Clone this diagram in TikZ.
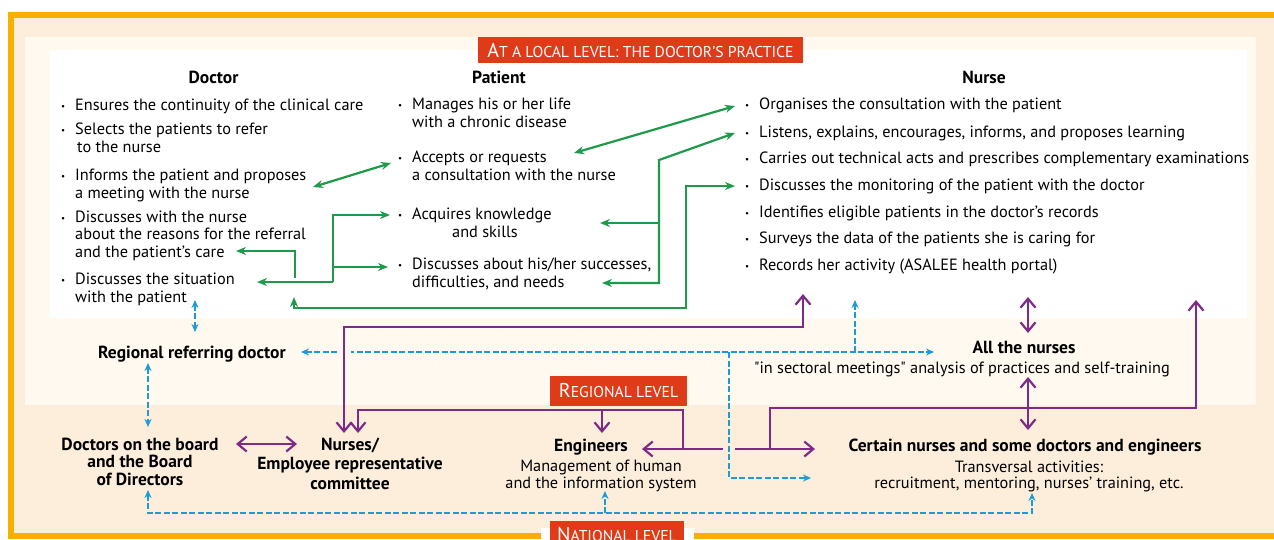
\documentclass[tikz,border=0pt]{standalone}
\usepackage{fontspec}
\setmainfont{PT Sans}[Ligatures=TeXOff]
\usetikzlibrary{arrows.meta}

\definecolor{frameorange}{HTML}{F8AF00}
\definecolor{peach}{HTML}{FDEEDC}
\definecolor{cream}{HTML}{FFF9F0}
\definecolor{labelred}{HTML}{E03B18}
\definecolor{grn}{HTML}{1F9A4A}
\definecolor{prp}{HTML}{7D2B86}
\definecolor{blu}{HTML}{1D9BD7}

% bullet hanging left of an item, big first letter of a level label
\newcommand{\bul}{\llap{\raisebox{1pt}{\fontsize{9}{9}\selectfont\textbullet}\hspace{10pt}}}
\newcommand{\initial}[1]{{\fontsize{20}{20}\selectfont #1}}

\tikzset{
  item/.style={anchor=north west, inner sep=0pt, align=left, font=\fontsize{16.3}{18}\selectfont},
  head/.style={inner sep=0pt, font=\bfseries\fontsize{17.5}{18}\selectfont},
  unit/.style={anchor=north, inner sep=0pt, align=center, font=\bfseries\fontsize{17.5}{18}\selectfont},
  task/.style={anchor=north, inner sep=0pt, align=center, font=\fontsize{16.3}{17.5}\selectfont},
  level/.style={fill=labelred, text=white, inner sep=0pt, font=\fontsize{15.7}{15.7}\selectfont},
  gr/.style={draw=grn, line width=2.2pt, >={Stealth[length=10pt,width=8pt]}},
  pu/.style={draw=prp, line width=2.2pt, >={Straight Barb[length=9pt,width=15pt]}},
  bl/.style={draw=blu, line width=1.4pt, dash pattern=on 6pt off 2.5pt, >={Stealth[length=8pt,width=7pt]}},
}

\begin{document}
\begin{tikzpicture}[x=1pt, y=-1pt]
\useasboundingbox (0,0) rectangle (1274,539);

% the three levels
\fill[white] (0,0) rectangle (1274,539);
\draw[frameorange, line width=6pt, fill=peach] (11,15) rectangle (1300,536);
\fill[cream] (25,37) rectangle (1256,405);
\fill[white] (50,50) rectangle (1247,318);
\fill[white] (541,528) rectangle (694,545);

\node[level, minimum width=325pt, minimum height=26pt] (local) at (640.5,50) {\initial{A}T A LOCAL LEVEL: THE DOCTOR’S PRACTICE};
\node[level, minimum width=137pt, minimum height=30pt] (regional) at (618.5,391) {\initial{R}EGIONAL LEVEL};
\node[level, minimum width=134pt, minimum height=26pt] (national) at (617,534) {\initial{N}ATIONAL LEVEL};

% doctor's practice
\node[head] (doctor) at (213.5,77) {Doctor};
\node[head] (patient) at (499,77) {Patient};
\node[head] (nurse) at (984,77) {Nurse};

\node[item] (d1) at (75,98.5) {\bul Ensures the continuity of the clinical care};
\node[item] (d2) at (75,122.5) {\bul Selects the patients to refer\\\hspace{2pt}to the nurse};
\node[item] (d3) at (75,168.5) {\bul Informs the patient and proposes\\a meeting with the nurse};
\node[item, font=\fontsize{16.3}{17.5}\selectfont] (d4) at (75,210.5) {\bul Discusses with the nurse\\about the reasons for the referral\\and the patient’s care};
\node[item] (d5) at (75,272.5) {\bul Discusses the situation\\with the patient};

\node[item] (p1) at (412,97.5) {\bul Manages his or her life\\with a chronic disease};
\node[item] (p2) at (412,150.5) {\bul Accepts or requests\\a consultation with the nurse};
\node[item] (p3) at (412,207.5) {\bul Acquires knowledge\\\hspace{40pt}and skills};
\node[item] (p4) at (412,257.5) {\bul Discusses about his/her successes,\\difficulties, and needs};

\node[item] (n1) at (759,97.5) {\bul Organises the consultation with the patient};
\node[item] (n2) at (759,125.5) {\bul Listens, explains, encourages, informs, and proposes learning};
\node[item] (n3) at (759,151.5) {\bul Carries out technical acts and prescribes complementary examinations};
\node[item] (n4) at (759,178.5) {\bul Discusses the monitoring of the patient with the doctor};
\node[item] (n5) at (759,205.5) {\bul Identifies eligible patients in the doctor’s records};
\node[item] (n6) at (759,231.5) {\bul Surveys the data of the patients she is caring for};
\node[item] (n7) at (759,258.5) {\bul Records her activity (ASALEE health portal)};

% regional and national actors
\node[unit] (refdoc) at (192,345.5) {Regional referring doctor};
\node[unit] (allnurses) at (1024,340.5) {All the nurses};
\node[task] (sectoral) at (962,362) {"in sectoral meetings" analysis of practices and self-training};
\node[unit, font=\bfseries\fontsize{17.5}{17.5}\selectfont] (board) at (140,437.5) {Doctors on the board\\and the Board\\of Directors};
\node[unit, font=\bfseries\fontsize{17.5}{19.5}\selectfont] (committee) at (350,437.5) {Nurses/\\Employee representative\\committee};
\node[unit] (engineers) at (591,438.5) {Engineers};
\node[task] (infosys) at (601,459.5) {Management of human\\and the information system};
\node[unit] (certain) at (1025,438.5) {Certain nurses and some doctors and engineers};
\node[task, font=\fontsize{16.3}{16.5}\selectfont] (transversal) at (1029,460.5) {Transversal activities:\\recruitment, mentoring, nurses’ training, etc.};

% green links inside the practice
\coordinate (g1) at (313,187); \coordinate (g2) at (391,163);
\draw[gr,<->] (g1) -- (g2);
\coordinate (g3) at (574,153); \coordinate (g4) at (735,106);
\draw[gr,<->] (g3) -- (g4);
\coordinate (g5) at (735,133); \coordinate (g6) at (659,160);
\coordinate (g7) at (600,223); \coordinate (g8) at (602,283);
\draw[gr,<->] (g5) -- (g6) |- (g8);
\draw[gr,->] (g6 |- g7) -- (g7);
\coordinate (g9) at (257,282); \coordinate (g10) at (333,282);
\coordinate (g11) at (390,215); \coordinate (g12) at (388,267);
\draw[gr,->] (g10) -- (g9);
\draw[gr,->] (g10) |- (g11);
\draw[gr,->] (g10 |- g12) -- (g12);
\coordinate (g13) at (295,278); \coordinate (g14) at (236,251);
\draw[gr,->] (g13) |- (g14);
\coordinate (g15) at (294,297); \coordinate (g16) at (686,308); \coordinate (g17) at (735,186);
\draw[gr,<->] (g15) -- (g15 |- g16) -- (g16) |- (g17);

% blue dashed links
\coordinate (b1) at (195,300); \coordinate (b2) at (195,332);
\draw[bl,<->] (b1) -- (b2);
\coordinate (b3) at (148,363); \coordinate (b4) at (148,427);
\draw[bl,<->] (b3) -- (b4);
\coordinate (b5) at (301,352); \coordinate (b6) at (934,352);
\draw[bl,<->] (b5) -- (b6);
\coordinate (b7) at (855,300);
\draw[bl,->] (b7 |- b6) -- (b7);
\fill[cream] (337,347) rectangle (351,357);

% purple links
\coordinate (q1) at (344,433); \coordinate (q2) at (803,294);
\draw[pu,<->] (q1) -- ++(0,-106) -| (q2);
\coordinate (q3) at (358,433); \coordinate (q4) at (683,449);
\draw[pu,->] (q4) -- ++(0,-39) -| (q3);
\coordinate (q5) at (602,410); \coordinate (q6) at (602,433);
\draw[pu,->] (q5) -- (q6);
\coordinate (q7) at (642,449); \coordinate (q8) at (815,449);
\draw[pu,<->] (q7) -- (q8);
\coordinate (q9) at (770,449); \coordinate (q10) at (1196,300);
\draw[pu,->] (q9) -- ++(0,-41) -| (q10);
\coordinate (q11) at (1028,297); \coordinate (q12) at (1028,333);
\draw[pu,<->] (q11) -- (q12);
\coordinate (q13) at (1028,377); \coordinate (q14) at (1028,430);
\draw[pu,<->] (q13) -- (q14);
\coordinate (q15) at (236,444); \coordinate (q16) at (297,444);
\draw[pu,<->] (q15) -- (q16);
\fill[peach] (723,444) rectangle (735,454);

\coordinate (b8) at (729,352); \coordinate (b9) at (811,478);
\draw[bl,->] (b8) |- (b9);
\coordinate (b10) at (148,490); \coordinate (b11) at (1032,493);
\draw[bl,<->] (b10) -- ++(0,23) -| (b11);
\coordinate (b12) at (605,513); \coordinate (b13) at (605,491);
\draw[bl,->] (b12) -- (b13);
\end{tikzpicture}
\end{document}
